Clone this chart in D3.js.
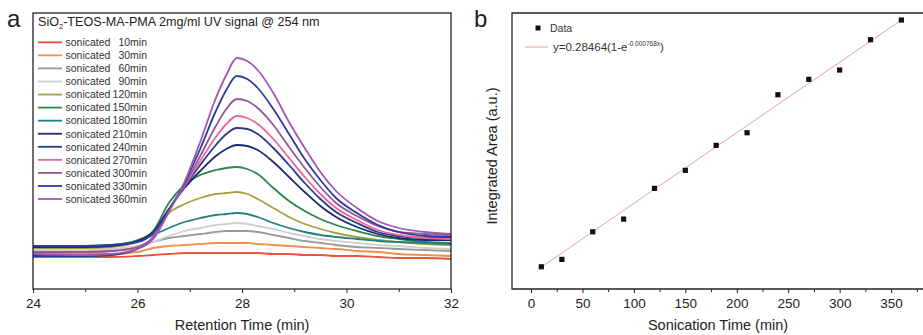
<!DOCTYPE html>
<html><head><meta charset="utf-8">
<script src="https://cdn.jsdelivr.net/npm/d3@7"></script>
<style>body{margin:0;background:#fff}svg{display:block;font-family:"Liberation Sans",Arial,sans-serif}</style>
</head><body><svg id="c" width="923" height="335"></svg>
<script>
// ---- Panel a data: retention time grid (min) and UV signal (a.u.) per sonication time
const retentionTimes = [24,25,25.5,26,26.3,26.6,26.9,27.2,27.5,27.7,27.9,28.1,28.3,28.6,28.9,29.2,29.5,29.8,30.2,30.6,31,31.5,32];
const sig10  = [32,32,32,33,34,35,36,36,36,36,36,36,36,35,35,34,34,33,33,32,31,31,30];
const sig30  = [35,35,35,37,41,43,44,45,46,46,46,46,45,44,43,42,41,40,38,37,35,34,33];
const sig60  = [37,37,38,41,47,51,53,55,57,58,58,58,57,54,51,48,46,44,42,41,40,39,38];
const sig90  = [39,39,40,43,47,53,58,61,64,65,66,65,63,60,56,53,50,48,46,44,43,41,40];
const sig120 = [41,41,42,47,57,76,85,91,95,96,97,95,90,81,72,65,60,56,52,49,47,45,44];
const sig150 = [43,43,44,49,58,86,104,114,119,121,122,120,115,101,88,78,70,64,58,53,50,47,46];
const sig180 = [43,43,44,48,54,61,67,71,74,75,76,75,72,66,61,57,54,52,50,48,47,46,45];
const sig210 = [42,42,43,48,57,80,101,118,133,140,144,143,139,127,112,97,83,72,62,55,51,49,49];
const sig240 = [33,33,34,40,51,79,102,124,144,155,161,160,155,141,124,106,90,77,66,57,53,51,51];
const sig270 = [37,37,38,42,52,79,103,128,152,165,173,171,165,150,131,112,95,81,69,59,54,51,50];
const sig300 = [37,37,38,42,52,79,104,133,163,180,190,188,181,164,142,121,102,86,73,63,57,55,54];
const sig330 = [43,43,44,47,56,79,106,140,178,199,213,210,201,180,155,130,109,91,76,64,57,53,52];
const sig360 = [35,34,35,40,50,77,107,147,191,214,231,228,219,196,167,141,117,98,81,68,61,57,55];
const seriesLabels = ["10min","30min","60min","90min","120min","150min","180min","210min","240min","270min","300min","330min","360min"];
const seriesColors = ["#e8553a","#f0904a","#9a9a9a","#cfcfcf","#a8a040","#2a8a4a","#238080","#1c2a6e","#2a3a8e","#ee6494","#8f5a96","#2c3c9e","#a455b4"];
const xTicksA = [24,26,28,30,32];

// ---- Panel b data
const sonicationTimes = [10,30,60,90,120,150,180,210,240,270,300,330,360];
const integratedArea = [0.00218,0.00417,0.01160,0.01502,0.02329,0.02814,0.03487,0.03826,0.04849,0.05264,0.05514,0.06330,0.06861];
// fitted curve as drawn in the figure
const fitTimes = [10,180,360];
const fitArea  = [0.00210,0.03450,0.06860];
const xTicksB = [0,50,100,150,200,250,300,350];

const svg = d3.select("#c");
const allSeries = [sig10,sig30,sig60,sig90,sig120,sig150,sig180,sig210,sig240,sig270,sig300,sig330,sig360];

// ================= Panel a =================
const xa = d3.scaleLinear().domain([24,32]).range([33,451]);
const ya = d3.scaleLinear().domain([0,276]).range([289,13]);
const ga = svg.append("g");
const line = d3.line().x((d,i)=>xa(retentionTimes[i])).y(d=>ya(d)).curve(d3.curveMonotoneX);
allSeries.forEach((s,i)=>{
  ga.append("path").attr("d",line(s)).attr("fill","none").attr("stroke",seriesColors[i]).attr("stroke-width",1.8);
});
ga.append("rect").attr("x",33).attr("y",13).attr("width",418).attr("height",276).attr("fill","none").attr("stroke","#222").attr("stroke-width",1.3);
const axA = d3.axisBottom(xa).tickValues(xTicksA).tickSize(4).tickFormat(d3.format("d"));
const gax = ga.append("g").attr("transform","translate(0,289)").call(axA);
gax.select(".domain").remove();
gax.selectAll("text").attr("font-size",13.5).attr("fill","#222").attr("dy","0.9em");
gax.selectAll("line").attr("stroke","#222");
ga.append("g").attr("transform","translate(0,289)").call(d3.axisBottom(xa).tickValues([25,27,29,31]).tickSize(3).tickFormat(""))
  .call(g=>{g.select(".domain").remove();g.selectAll("line").attr("stroke","#222");});
ga.append("text").attr("x",242).attr("y",330).attr("text-anchor","middle").attr("font-size",14.5).attr("fill","#222").text("Retention Time (min)");
ga.append("text").attr("x",7).attr("y",27).attr("font-size",24).attr("fill","#222").text("a");
const title = ga.append("text").attr("x",38).attr("y",26).attr("font-size",12.6).attr("fill","#222");
title.append("tspan").text("SiO");
title.append("tspan").attr("font-size",7.5).attr("dy",3).text("2");
title.append("tspan").attr("dy",-3).text("-TEOS-MA-PMA 2mg/ml UV signal @ 254 nm");
seriesLabels.forEach((lab,i)=>{
  const y = 42.3 + i*13.06;
  ga.append("line").attr("x1",38).attr("x2",62).attr("y1",y).attr("y2",y).attr("stroke",seriesColors[i]).attr("stroke-width",1.8);
  ga.append("text").attr("x",65.5).attr("y",y+3.8).attr("font-size",10.5).attr("fill","#333").text("sonicated");
  ga.append("text").attr("x",147).attr("y",y+3.8).attr("text-anchor","end").attr("font-size",10.5).attr("fill","#333").text(lab);
});

// ================= Panel b =================
const xb = d3.scaleLinear().domain([-18.5,382]).range([512,924]);
const yb = d3.scaleLinear().domain([-0.0038,0.0705]).range([289,13]);
const gb = svg.append("g");
gb.append("path").attr("d",d3.line().x((d,i)=>xb(fitTimes[i])).y(d=>yb(d)).curve(d3.curveMonotoneX)(fitArea))
  .attr("fill","none").attr("stroke","#e4a0a4").attr("stroke-width",1);
gb.selectAll("rect.pt").data(sonicationTimes).enter().append("rect").attr("class","pt")
  .attr("x",d=>xb(d)-2.6).attr("y",(d,i)=>yb(integratedArea[i])-2.6).attr("width",5.2).attr("height",5.2).attr("fill","#111");
gb.append("path").attr("d","M924,13H512V289H924").attr("fill","none").attr("stroke","#222").attr("stroke-width",1.3);
const gbx = gb.append("g").attr("transform","translate(0,289)").call(d3.axisBottom(xb).tickValues(xTicksB).tickSize(4));
gbx.select(".domain").remove();
gbx.selectAll("text").attr("font-size",13.5).attr("fill","#222").attr("dy","0.9em");
gbx.selectAll("line").attr("stroke","#222");
gb.append("g").attr("transform","translate(0,289)").call(d3.axisBottom(xb).tickValues([25,75,125,175,225,275,325,375]).tickSize(3).tickFormat(""))
  .call(g=>{g.select(".domain").remove();g.selectAll("line").attr("stroke","#222");});
gb.append("text").attr("x",718).attr("y",330).attr("text-anchor","middle").attr("font-size",14.5).attr("fill","#222").text("Sonication Time (min)");
gb.append("text").attr("transform","translate(497,156) rotate(-90)").attr("text-anchor","middle").attr("font-size",14.5).attr("fill","#222").text("Integrated Area (a.u.)");
gb.append("text").attr("x",474).attr("y",27).attr("font-size",24).attr("fill","#222").text("b");
gb.append("rect").attr("x",535.5).attr("y",25.5).attr("width",5).attr("height",5).attr("fill","#111");
gb.append("text").attr("x",550).attr("y",31.5).attr("font-size",10.5).attr("fill","#333").text("Data");
gb.append("line").attr("x1",525).attr("x2",548).attr("y1",47).attr("y2",47).attr("stroke","#e4a0a4").attr("stroke-width",1);
const ft = gb.append("text").attr("x",553).attr("y",50.5).attr("font-size",11.5).attr("fill","#333");
ft.append("tspan").text("y=0.28464(1-e");
ft.append("tspan").attr("font-size",6.5).attr("dy",-5).text("-0.000768x");
ft.append("tspan").attr("dy",5).text(")");
</script></body></html>
